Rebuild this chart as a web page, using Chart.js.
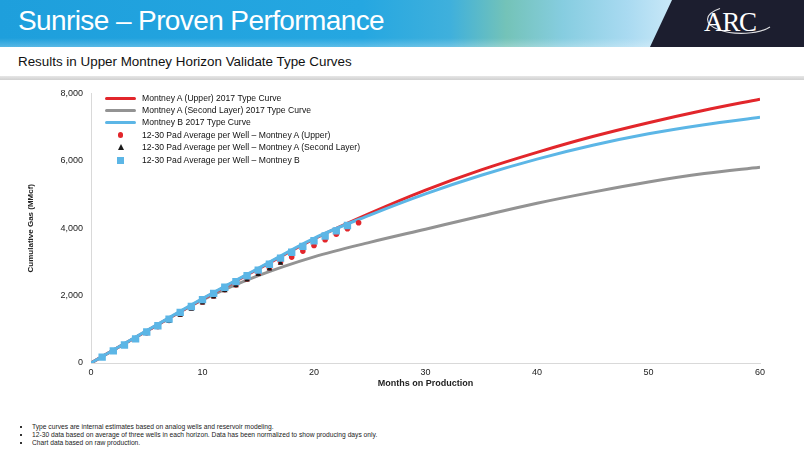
<!DOCTYPE html>
<html><head><meta charset="utf-8">
<script src="https://cdn.jsdelivr.net/npm/chart.js@4.4.0/dist/chart.umd.min.js"></script>
<style>
html,body{margin:0;padding:0;width:804px;height:476px;overflow:hidden;background:#fff;font-family:"Liberation Sans",Arial,sans-serif;}
#banner{position:absolute;left:0;top:0;width:804px;height:47px;background:linear-gradient(90deg,#1e9fdc 0%,#25a7e1 45%,#3fb0dc 56%,#74c3b8 63%,#86cde0 70%,#a9daf1 78%,#cbe9f8 84%);}
#banner2{position:absolute;left:0;top:38px;width:804px;height:9px;background:linear-gradient(180deg,rgba(255,255,255,0) 0%,rgba(255,255,255,0.25) 100%);}
#navy{position:absolute;left:0;top:0;width:804px;height:47px;background:#1c1e2f;clip-path:polygon(672px 0,804px 0,804px 47px,650px 47px);}
#title{position:absolute;left:18px;top:5px;color:#fff;font-size:28px;letter-spacing:-0.6px;white-space:nowrap;}
#logo{position:absolute;left:704px;top:7px;color:#fff;font-family:"Liberation Serif","Times New Roman",serif;font-size:27px;letter-spacing:-1.2px;}
#logosvg{position:absolute;left:690px;top:0;}
#sub{position:absolute;left:18px;top:54px;color:#111;font-size:13.4px;white-space:nowrap;}
#bar{position:absolute;left:0;top:76px;width:804px;height:4px;background:linear-gradient(180deg,#e6e6e6,#d0d0d0);}
#chartbox{position:absolute;left:0;top:80px;width:804px;height:320px;}
#legend{position:absolute;left:0;top:0;}
.lg{position:absolute;left:142px;font-size:8.6px;color:#111;white-space:nowrap;line-height:10px;}
.ln{position:absolute;left:105px;width:31px;height:3px;}
.notes{position:absolute;left:0;top:0;}
.note{position:absolute;left:32px;font-size:6.7px;color:#222;white-space:nowrap;line-height:8px;}
.bul{position:absolute;left:20px;top:0;width:2px;height:2px;background:#333;}
</style></head>
<body>
<div id="banner"></div><div id="banner2"></div><div id="navy"></div>
<div id="title">Sunrise – Proven Performance</div>
<svg id="logosvg" width="114" height="47"><path d="M 30 8.5 A 34 14 0 1 0 80 27" fill="none" stroke="#ffffff" stroke-width="1.1" opacity="0.85"/></svg>
<div id="logo">ARC</div>
<div id="sub">Results in Upper Montney Horizon Validate Type Curves</div>
<div id="bar"></div>
<div id="chartbox"><canvas id="c" width="804" height="320"></canvas></div>
<div id="legend"></div>
<div class="notes" id="notes"></div>
<script>
// Type curves (months on production vs cumulative gas, MMcf)
const curveMonths = [0,5,10,15,20,25,30,35,40,45,50,55,60];
const upperCurve  = [0,950,1890,2790,3680,4440,5130,5730,6250,6720,7130,7500,7830];
const secondCurve = [0,950,1870,2590,3150,3580,3970,4360,4740,5070,5370,5620,5810];
const montBCurve  = [0,960,1910,2810,3700,4390,5020,5570,6050,6460,6800,7070,7290];

// 12-30 pad averages per well
const upperMonths = [1,2,3,4,5,6,7,8,9,10,11,12,13,14,15,16,17,18,19,20,21,22,23,24];
const upperPad    = [180,355,530,710,895,1080,1265,1450,1630,1810,1990,2173,2318,2493,2656,2822,2996,3142,3320,3485,3656,3820,3985,4160];
const secondMonths = [1,2,3,4,5,6,7,8,9,10,11,12,13,14,15,16,17];
const secondPad    = [170,345,515,700,880,1057,1231,1417,1600,1784,1965,2150,2298,2463,2627,2793,2960];
const montBMonths = [1,2,3,4,5,6,7,8,9,10,11,12,13,14,15,16,17,18,19,20,21,22,23];
const montBPad    = [175,359,533,718,921,1105,1300,1503,1678,1882,2065,2249,2415,2589,2754,2929,3113,3287,3462,3627,3770,3920,4080];

const xTicks = [0,10,20,30,40,50,60];
const yTicks = [0,2000,4000,6000,8000];

const labels = [
  'Montney A (Upper) 2017 Type Curve',
  'Montney A (Second Layer) 2017 Type Curve',
  'Montney B 2017 Type Curve',
  '12-30 Pad Average per Well – Montney A (Upper)',
  '12-30 Pad Average per Well – Montney A (Second Layer)',
  '12-30 Pad Average per Well – Montney B'
];
const notes = [
  'Type curves are internal estimates based on analog wells and reservoir modeling.',
  '12-30 data based on average of three wells in each horizon. Data has been normalized to show producing days only.',
  'Chart data based on raw production.'
];

const RED='#e2262b', GRAY='#939393', BLUE='#5cb6e6', BLACK='#1a1a1a';
const pts = (xs, ys) => xs.map((x,i)=>({x, y: ys[i]}));

const lineDs = (label, xs, ys, color, order) => ({
  label, data: pts(xs, ys), borderColor: color, backgroundColor: color,
  borderWidth: 3, pointRadius: 0, cubicInterpolationMode: 'monotone', showLine: true, order
});
const ptDs = (label, xs, ys, color, style, r, order) => ({
  label, data: pts(xs, ys), borderColor: color, backgroundColor: color,
  showLine: false, pointStyle: style, pointRadius: r, pointBorderWidth: 0, order
});

new Chart(document.getElementById('c'), {
  type: 'line',
  data: { datasets: [
    lineDs(labels[0], curveMonths, upperCurve, RED, 4),
    lineDs(labels[1], curveMonths, secondCurve, GRAY, 5),
    lineDs(labels[2], curveMonths, montBCurve, BLUE, 3),
    ptDs(labels[3], upperMonths, upperPad, RED, 'circle', 2.8, 2),
    ptDs(labels[4], secondMonths, secondPad, BLACK, 'triangle', 3.2, 1),
    ptDs(labels[5], montBMonths, montBPad, BLUE, 'rect', 5.2, 0)
  ]},
  options: {
    responsive: false, animation: false,
    layout: { padding: { left: 0, right: 44, top: 8, bottom: 0 } },
    plugins: { legend: { display: false }, tooltip: { enabled: false } },
    scales: {
      x: {
        type: 'linear', min: 0, max: 60,
        afterBuildTicks: s => { s.ticks = xTicks.map(v => ({ value: v })); },
        ticks: { font: { size: 9, family: 'Liberation Sans' }, color: '#222', padding: 4 },
        grid: { display: false, drawTicks: false },
        border: { color: '#d9d9d9', width: 1 },
        title: { display: true, text: 'Months on Production', color: '#222',
                 font: { size: 9, weight: 'bold', family: 'Liberation Sans' }, padding: { top: 0, bottom: 11 } },
        afterFit: s => { s.height = 37; }
      },
      y: {
        min: 0, max: 8000,
        afterBuildTicks: s => { s.ticks = yTicks.map(v => ({ value: v })); },
        ticks: { font: { size: 9, family: 'Liberation Sans' }, color: '#222', padding: 8,
                 callback: v => v.toLocaleString('en-US') },
        grid: { display: false, drawTicks: false },
        border: { color: '#d9d9d9', width: 1 },
        title: { display: true, text: 'Cumulative Gas (MMcf)', color: '#222',
                 font: { size: 8, weight: 'bold', family: 'Liberation Sans' }, padding: { top: 26, bottom: 0 } },
        afterFit: s => { s.width = 91; }
      }
    }
  }
});

// HTML legend
const lg = document.getElementById('legend');
const rowY = [98, 110, 122, 135, 147, 160];
const lineColors = [RED, GRAY, BLUE];
labels.forEach((t, i) => {
  const y = rowY[i];
  if (i < 3) {
    const d = document.createElement('div'); d.className = 'ln';
    d.style.top = (y - 1.5) + 'px'; d.style.background = lineColors[i];
    d.style.borderRadius = '1.5px';
    lg.appendChild(d);
  } else {
    const m = document.createElement('div'); m.style.position = 'absolute';
    if (i === 3) { m.style.cssText += `left:118px;top:${y-2.6}px;width:5.2px;height:5.2px;border-radius:50%;background:${RED};`; }
    if (i === 4) { m.style.cssText += `left:117.5px;top:${y-3}px;width:0;height:0;border-left:3.2px solid transparent;border-right:3.2px solid transparent;border-bottom:6px solid ${BLACK};`; }
    if (i === 5) { m.style.cssText += `left:117px;top:${y-3.5}px;width:7px;height:7px;background:${BLUE};`; }
    lg.appendChild(m);
  }
  const s = document.createElement('div'); s.className = 'lg';
  s.style.top = (y - 5) + 'px'; s.textContent = t;
  lg.appendChild(s);
});

// footnotes
const nt = document.getElementById('notes');
const noteY = [427, 435, 443];
notes.forEach((t, i) => {
  const b = document.createElement('div'); b.className = 'bul'; b.style.top = (noteY[i] - 1) + 'px';
  const n = document.createElement('div'); n.className = 'note'; n.style.top = (noteY[i] - 4) + 'px'; n.textContent = t;
  nt.appendChild(b); nt.appendChild(n);
});
</script>
</body></html>
